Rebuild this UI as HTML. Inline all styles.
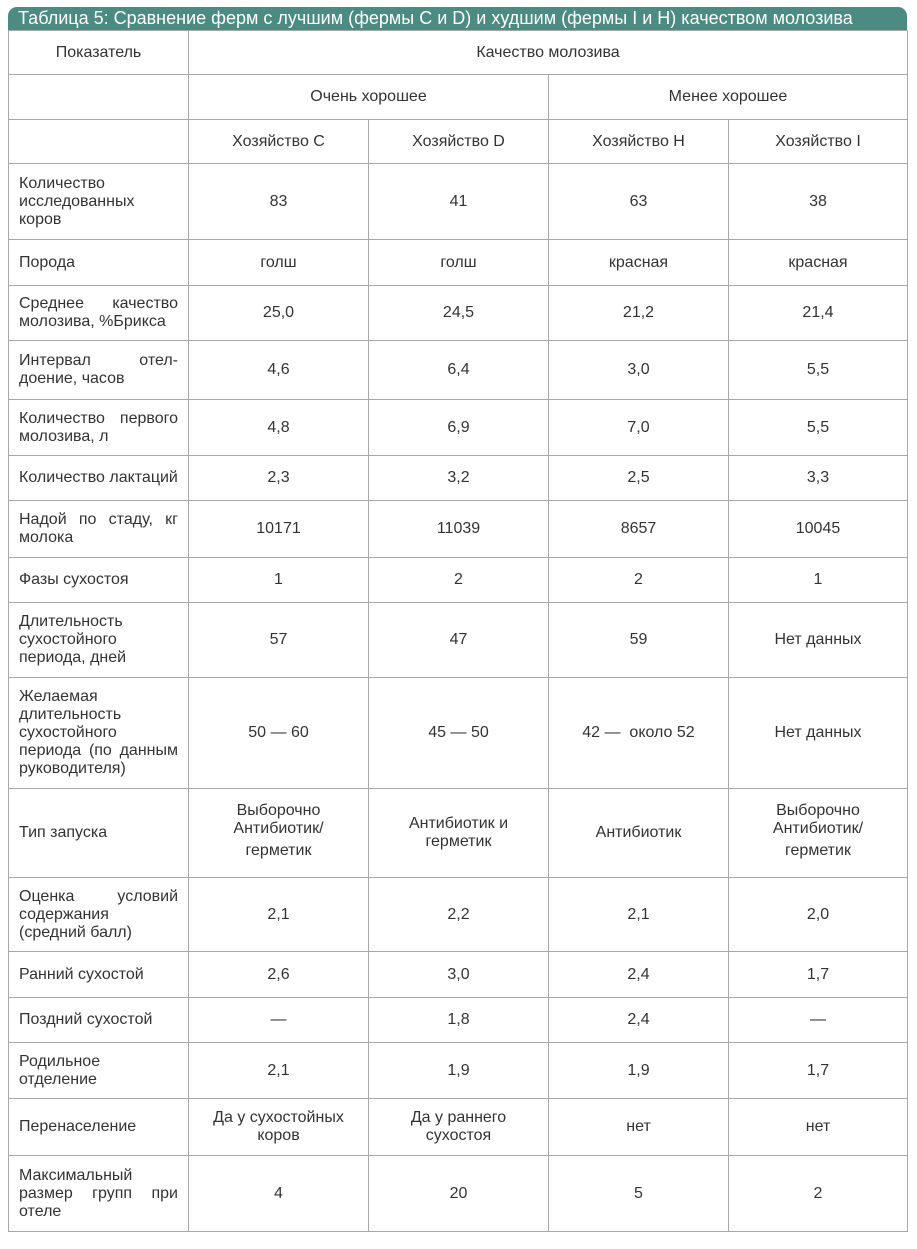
<!DOCTYPE html>
<html><head><meta charset="utf-8"><style>
body{margin:0;background:#fff;width:917px;height:1249px;position:relative;font-family:"Liberation Sans",Arial,sans-serif;color:#333;}
.hd{position:absolute;left:8px;top:7px;width:899px;height:23px;background:#4b8b82;border-radius:9px 9px 0 0;color:#fff;font-size:18px;line-height:23px;padding-left:10px;box-sizing:border-box;white-space:nowrap;}
table{position:absolute;left:8px;top:30px;border-collapse:collapse;table-layout:fixed;width:899px;}
td{border:1px solid #a8a8a8;text-align:center;font-size:16px;line-height:18px;padding:0 10px;vertical-align:middle;}
td.l{text-align:justify;text-align-last:left;}
</style></head><body>
<div class="hd">Таблица 5: Сравнение ферм с лучшим (фермы C и D) и худшим (фермы I и H) качеством молозива</div>
<table>
<colgroup><col style="width:180px"><col style="width:180px"><col style="width:180px"><col style="width:180px"><col style="width:179px"></colgroup>
<tr style="height:44px"><td>Показатель</td><td colspan="4">Качество молозива</td></tr>
<tr style="height:45px"><td></td><td colspan="2">Очень хорошее</td><td colspan="2">Менее хорошее</td></tr>
<tr style="height:44px"><td></td><td>Хозяйство C</td><td>Хозяйство D</td><td>Хозяйство H</td><td>Хозяйство I</td></tr>
<tr style="height:76px"><td class="l">Количество исследованных коров</td><td>83</td><td>41</td><td>63</td><td>38</td></tr>
<tr style="height:46px"><td class="l">Порода</td><td>голш</td><td>голш</td><td>красная</td><td>красная</td></tr>
<tr style="height:55px"><td class="l">Среднее качество молозива, %Брикса</td><td>25,0</td><td>24,5</td><td>21,2</td><td>21,4</td></tr>
<tr style="height:59px"><td class="l">Интервал отел- доение, часов</td><td>4,6</td><td>6,4</td><td>3,0</td><td>5,5</td></tr>
<tr style="height:56px"><td class="l">Количество первого молозива, л</td><td>4,8</td><td>6,9</td><td>7,0</td><td>5,5</td></tr>
<tr style="height:45px"><td class="l">Количество лактаций</td><td>2,3</td><td>3,2</td><td>2,5</td><td>3,3</td></tr>
<tr style="height:57px"><td class="l">Надой по стаду, кг молока</td><td>10171</td><td>11039</td><td>8657</td><td>10045</td></tr>
<tr style="height:45px"><td class="l">Фазы сухостоя</td><td>1</td><td>2</td><td>2</td><td>1</td></tr>
<tr style="height:75px"><td class="l">Длительность сухостойного периода, дней</td><td>57</td><td>47</td><td>59</td><td>Нет данных</td></tr>
<tr style="height:111px"><td class="l">Желаемая длительность сухостойного периода (по данным руководителя)</td><td>50 — 60</td><td>45 — 50</td><td>42 —&nbsp; около 52</td><td>Нет данных</td></tr>
<tr style="height:89px"><td class="l">Тип запуска</td><td>Выборочно<br>Антибиотик/<br><span style="line-height:26px">герметик</span></td><td>Антибиотик и герметик</td><td>Антибиотик</td><td>Выборочно<br>Антибиотик/<br><span style="line-height:26px">герметик</span></td></tr>
<tr style="height:74px"><td class="l">Оценка условий содержания (средний балл)</td><td>2,1</td><td>2,2</td><td>2,1</td><td>2,0</td></tr>
<tr style="height:46px"><td class="l">Ранний сухостой</td><td>2,6</td><td>3,0</td><td>2,4</td><td>1,7</td></tr>
<tr style="height:45px"><td class="l">Поздний сухостой</td><td>—</td><td>1,8</td><td>2,4</td><td>—</td></tr>
<tr style="height:56px"><td class="l">Родильное отделение</td><td>2,1</td><td>1,9</td><td>1,9</td><td>1,7</td></tr>
<tr style="height:57px"><td class="l">Перенаселение</td><td>Да у сухостойных коров</td><td>Да у раннего сухостоя</td><td>нет</td><td>нет</td></tr>
<tr style="height:76px"><td class="l">Максимальный размер групп при отеле</td><td>4</td><td>20</td><td>5</td><td>2</td></tr>
</table>
</body></html>
